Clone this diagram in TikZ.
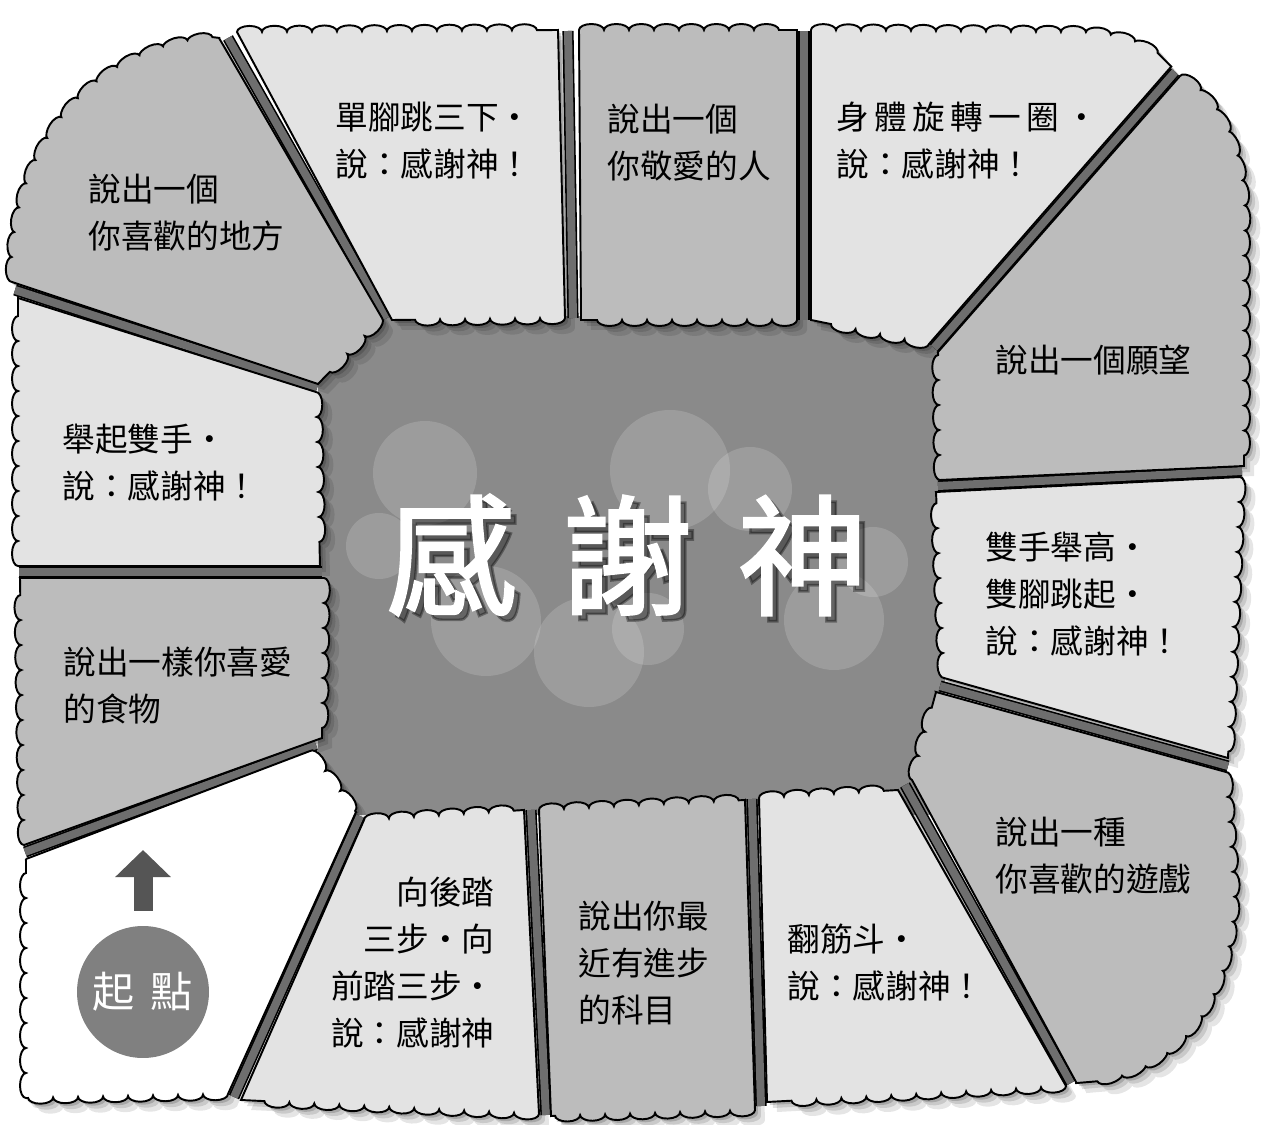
\documentclass[tikz,border=0pt]{standalone}
\usepackage{fontspec}
\newfontfamily\cjk{Noto Sans CJK TC}
\newfontfamily\cjktitle[FakeBold=2]{Noto Sans CJK TC}
\usetikzlibrary{decorations.pathmorphing,arrows.meta}

\definecolor{lightcol}{HTML}{E3E3E3}
\definecolor{midcol}{HTML}{BCBCBC}
\definecolor{gapcol}{HTML}{6E6E6E}
\definecolor{centercol}{HTML}{8A8A8A}
\definecolor{dotcol}{HTML}{808080}
\definecolor{arrowcol}{HTML}{555555}

% the squares of the board, in pixels (y going down)
\newcommand\cellTL{(12,282) decorate{.. controls (10,150) and (90,45) .. (219,38)} -- (382,318) decorate{-- (318,384)} -- cycle}
\newcommand\cellTa{(392,320) -- (237,32) decorate{-- (558,30)} -- (565,318) decorate{-- (392,320)} -- cycle}
\newcommand\cellTb{(581,320) -- (579,30) decorate{-- (797,30)} -- (797,320) decorate{-- (581,320)} -- cycle}
\newcommand\cellTc{(811,320) -- (811,30) decorate{-- (1080,32) .. controls (1125,35) and (1152,48) .. (1170,68)} -- (929,344) decorate{-- (811,320)} -- cycle}
\newcommand\cellTR{(938,352) -- (1180,76) decorate{.. controls (1215,100) and (1242,140) .. (1244,215) -- (1244,466)} -- (940,480) decorate{-- (938,352)} -- cycle}
\newcommand\cellRa{(944,678) decorate{-- (936,492)} -- (1240,477) decorate{-- (1228,758)} -- cycle}
\newcommand\cellBR{(936,692) -- (1226,772) decorate{-- (1234,890) .. controls (1232,1000) and (1180,1075) .. (1076,1082)} -- (912,780) decorate{-- (936,692)} -- cycle}
\newcommand\cellBc{(767,1102) -- (759,798) decorate{-- (898,790)} -- (1066,1086) decorate{-- (767,1102)} -- cycle}
\newcommand\cellBb{(551,1116) -- (539,810) decorate{-- (745,800)} -- (755,1110) decorate{-- (551,1116)} -- cycle}
\newcommand\cellBa{(241,1100) -- (364,820) decorate{-- (524,810)} -- (539,1114) decorate{-- (241,1100)} -- cycle}
\newcommand\cellSt{(356,812) -- (228,1094) decorate{-- (26,1098)} decorate{-- (26,859)} -- (310,751) decorate{-- (356,812)} -- cycle}
\newcommand\cellLc{(24,845) decorate{-- (20,578)} -- (324,578) decorate{-- (322,738)} -- cycle}
\newcommand\cellLb{(18,566) decorate{-- (18,298)} -- (316,392) decorate{-- (320,566)} -- cycle}

\tikzset{
  lightcell/.style={fill=lightcol, draw=black, line width=1.1pt},
  midcell/.style={fill=midcol, draw=black, line width=1.1pt},
  startcell/.style={fill=white, draw=black, line width=1.1pt},
  gapband/.style={draw=black, line width=0.9pt, double=gapcol, double distance=0.16cm},
  celltext/.style={font=\cjk\fontsize{18.6pt}{26.6pt}\selectfont, align=left, anchor=north west, inner sep=0pt},
  bubble/.style={fill=white, fill opacity=0.16},
  titletext/.style={font=\cjktitle\fontsize{74pt}{74pt}\selectfont},
}

\begin{document}
\begin{tikzpicture}[x=0.02cm, y=-0.02cm, decoration={bumps, segment length=1cm, amplitude=0.12cm}]
\useasboundingbox (0,0) rectangle (1261,1125);
\fill[white] (0,0) rectangle (1261,1125);

% middle of the board
\fill[centercol] (318,316) rectangle (945,815);
\fill[bubble] (425,473) circle (52);
\fill[bubble] (379,546) circle (33);
\fill[bubble] (486,621) circle (55);
\fill[bubble] (589,652) circle (55);
\fill[bubble] (648,629) circle (36);
\fill[bubble] (670,470) circle (60);
\fill[bubble] (750,489) circle (42);
\fill[bubble] (834,620) circle (50);
\fill[bubble] (873,562) circle (35);

% shadows
\fill[black, opacity=0.16, xshift=0.06cm, yshift=-0.06cm] \cellTL \cellTa \cellTb \cellTc \cellTR \cellRa \cellBR \cellBc \cellBb \cellBa \cellSt \cellLc \cellLb;
\fill[black, opacity=0.12, xshift=0.12cm, yshift=-0.12cm] \cellTL \cellTa \cellTb \cellTc \cellTR \cellRa \cellBR \cellBc \cellBb \cellBa \cellSt \cellLc \cellLb;
\fill[black, opacity=0.10, xshift=0.2cm, yshift=-0.2cm] \cellTL \cellTa \cellTb \cellTc \cellTR \cellRa \cellBR \cellBc \cellBb \cellBa \cellSt \cellLc \cellLb;

% bands between the squares
\draw[gapband] (228,38) -- (387,318);
\draw[gapband] (568,31) -- (573,318);
\draw[gapband] (804,31) -- (804,320);
\draw[gapband] (1175,72) -- (934,348);
\draw[gapband] (938,486) -- (1242,471);
\draw[gapband] (940,686) -- (1228,766);
\draw[gapband] (905,785) -- (1071,1083);
\draw[gapband] (752,799) -- (761,1106);
\draw[gapband] (531,810) -- (546,1115);
\draw[gapband] (360,816) -- (234,1097);
\draw[gapband] (316,745) -- (25,852);
\draw[gapband] (19,572) -- (322,572);
\draw[gapband] (15,290) -- (317,388);

% squares
\draw[midcell] \cellTL;
\draw[lightcell] \cellTa;
\draw[midcell] \cellTb;
\draw[lightcell] \cellTc;
\draw[midcell] \cellTR;
\draw[lightcell] \cellRa;
\draw[midcell] \cellBR;
\draw[lightcell] \cellBc;
\draw[midcell] \cellBb;
\draw[lightcell] \cellBa;
\draw[startcell] \cellSt;
\draw[midcell] \cellLc;
\draw[lightcell] \cellLb;

% texts
\node[celltext] (tltext) at (88,174) {說出一個\\你喜歡的地方};
\node[celltext] (tatext) at (335,102) {單腳跳三下‧\\說：感謝神！};
\node[celltext] (tbtext) at (607,104) {說出一個\\你敬愛的人};
\node[celltext] (tctext) at (836,102) {身\,體\,旋\,轉\,一\,圈\,‧\\說：感謝神！};
\node[celltext, anchor=west] (trtext) at (995,360) {說出一個願望};
\node[celltext] (ratext) at (985,532) {雙手舉高‧\\雙腳跳起‧\\說：感謝神！};
\node[celltext] (brtext) at (995,817) {說出一種\\你喜歡的遊戲};
\node[celltext] (bctext) at (787,924) {翻筋斗‧\\說：感謝神！};
\node[celltext] (bbtext) at (578,901) {說出你最\\近有進步\\的科目};
\node[celltext, anchor=north east, align=right] (batext) at (495,877) {向後踏\\三步‧向\\前踏三步‧\\說：感謝神};
\node[celltext] (lctext) at (63,647) {說出一樣你喜愛\\的食物};
\node[celltext] (lbtext) at (62,424) {舉起雙手‧\\說：感謝神！};

% start
\node[circle, fill=dotcol, minimum size=2.64cm, inner sep=0pt, text=white, font=\cjk\fontsize{24pt}{24pt}\selectfont] (start) at (143,992) {起\hspace{9pt}點};
\coordinate (tip) at (143,850);
\draw[arrowcol, line width=0.38cm, -{Triangle[length=0.54cm, width=1.08cm]}] ([yshift=0.3cm]start.north) -- (tip);

% title
\node[titletext, text=black, opacity=0.35] (titleshadow) at (633,561) {感\hspace{26pt}謝\hspace{26pt}神};
\node[titletext, text=white] (title) at (627,555) {感\hspace{26pt}謝\hspace{26pt}神};
\end{tikzpicture}
\end{document}
